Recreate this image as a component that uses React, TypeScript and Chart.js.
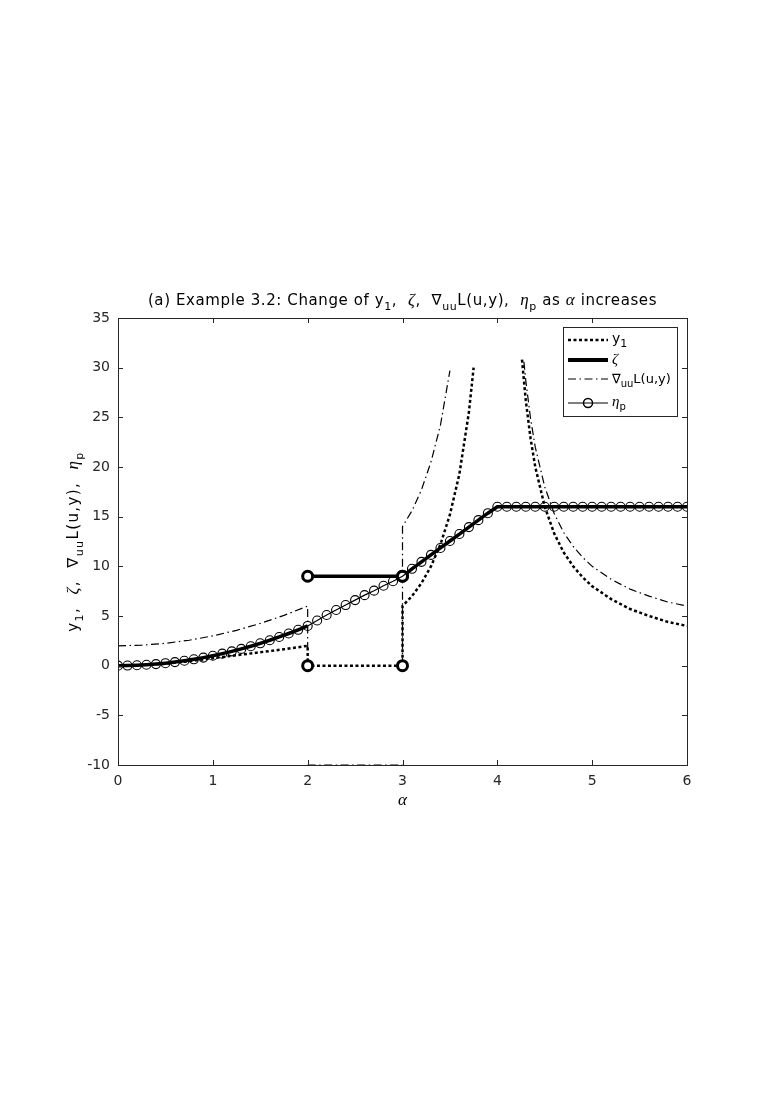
import React, { useEffect, useRef } from "react";
import { Chart, registerables } from "chart.js";

Chart.register(...registerables);

// ---------- data ----------
const xTickValues = [0, 1, 2, 3, 4, 5, 6];
const yTickValues = [-10, -5, 0, 5, 10, 15, 20, 25, 30, 35];

// eta_p sampled every 0.1 in alpha
const alphaGrid = [
  0, 0.1, 0.2, 0.3, 0.4, 0.5, 0.6, 0.7, 0.8, 0.9, 1, 1.1, 1.2, 1.3, 1.4, 1.5, 1.6, 1.7, 1.8, 1.9, 2,
  2.1, 2.2, 2.3, 2.4, 2.5, 2.6, 2.7, 2.8, 2.9, 3, 3.1, 3.2, 3.3, 3.4, 3.5, 3.6, 3.7, 3.8, 3.9, 4,
  4.1, 4.2, 4.3, 4.4, 4.5, 4.6, 4.7, 4.8, 4.9, 5, 5.1, 5.2, 5.3, 5.4, 5.5, 5.6, 5.7, 5.8, 5.9, 6,
];
const etaValues = [
  0, 0.01, 0.04, 0.09, 0.16, 0.25, 0.36, 0.49, 0.64, 0.81, 1, 1.21, 1.44, 1.69, 1.96, 2.25, 2.56, 2.89, 3.24, 3.61, 4,
  4.55, 5.1, 5.6, 6.1, 6.6, 7.1, 7.55, 8.05, 8.5, 9, 9.75, 10.45, 11.15, 11.85, 12.55, 13.25, 13.95, 14.65, 15.35, 16,
  16, 16, 16, 16, 16, 16, 16, 16, 16, 16, 16, 16, 16, 16, 16, 16, 16, 16, 16, 16,
];

// y_1 (null = break in the curve)
const y1Alpha = [
  0, 0.25, 0.5, 0.75, 1, 1.25, 1.5, 1.75, 2, 2, 3, 3, 3.1, 3.2, 3.3, 3.4, 3.5, 3.6, 3.7, 3.75,
  4, 4.26, 4.3, 4.35, 4.4, 4.5, 4.6, 4.7, 4.8, 4.9, 5, 5.2, 5.4, 5.6, 5.8, 6,
];
const y1Values: (number | null)[] = [
  0, 0.06, 0.2, 0.45, 0.75, 1.05, 1.35, 1.65, 2, 0, 0, 6, 7.0, 8.3, 10.0, 12.2, 15.2, 19.3, 25.5, 30,
  null, 30.8, 26.7, 22.9, 20, 16, 13.3, 11.4, 10, 8.9, 8, 6.7, 5.7, 5, 4.4, 4,
];

// zeta: equals eta outside [2,3], constant on [2,3]
const zetaJumpAlpha = [2, 3];
const zetaJumpValues = [9, 9];

// grad_uu L(u,y)
const gradAlpha = [
  0, 0.25, 0.5, 0.75, 1, 1.25, 1.5, 1.75, 2, 2, 2, 2, 3, 3, 3, 3, 3.1, 3.2, 3.3, 3.4, 3.5,
  4, 4.28, 4.3, 4.35, 4.4, 4.5, 4.6, 4.7, 4.8, 4.9, 5, 5.2, 5.4, 5.6, 5.8, 6,
];
const gradValues: (number | null)[] = [
  2, 2.06, 2.25, 2.56, 3, 3.56, 4.25, 5.06, 6, 0, null, -10, -10, null, 0, 14, 15.6, 17.7, 20.5, 24.2, 29.7,
  null, 30.6, 28.7, 24.9, 22, 18, 15.3, 13.4, 12, 10.9, 10, 8.7, 7.7, 7, 6.4, 6,
];

// ---------- helpers ----------
const INK = "#262626";
const SANS = '"DejaVu Sans"';
const SERIF = '"Liberation Serif"';

type Run = { t: string; sub?: boolean; it?: boolean };

function fontFor(r: Run, size: number) {
  const s = r.sub ? Math.round(size * 0.75) : size;
  if (r.it) return `italic ${Math.round(s * 1.12)}px ${SERIF}`;
  return `${s}px ${SANS}`;
}

function setSpacing(ctx: any, sp: number) {
  if ("letterSpacing" in ctx) ctx.letterSpacing = `${sp}px`;
}

function runsWidth(ctx: CanvasRenderingContext2D, runs: Run[], size: number) {
  let w = 0;
  for (const r of runs) {
    ctx.font = fontFor(r, size);
    w += ctx.measureText(r.t).width;
  }
  return w;
}

function drawRuns(
  ctx: CanvasRenderingContext2D,
  runs: Run[],
  x: number,
  y: number,
  size: number,
  align: "left" | "center",
  spacing = 0
) {
  setSpacing(ctx, spacing);
  const w = runsWidth(ctx, runs, size);
  let cx = align === "center" ? x - w / 2 : x;
  ctx.textAlign = "left";
  ctx.textBaseline = "alphabetic";
  for (const r of runs) {
    ctx.font = fontFor(r, size);
    ctx.fillText(r.t, cx, r.sub ? y + size * 0.32 : y);
    cx += ctx.measureText(r.t).width;
  }
  setSpacing(ctx, 0);
}

const titleRuns: Run[] = [
  { t: "(a) Example 3.2: Change of y" },
  { t: "1", sub: true },
  { t: ",  " },
  { t: "ζ", it: true },
  { t: ",  ∇" },
  { t: "uu", sub: true },
  { t: "L(u,y),  " },
  { t: "η", it: true },
  { t: "p", sub: true },
  { t: " as " },
  { t: "α", it: true },
  { t: " increases" },
];

const yLabelRuns: Run[] = [
  { t: "y" },
  { t: "1", sub: true },
  { t: ",  " },
  { t: "ζ", it: true },
  { t: ",  ∇" },
  { t: "uu", sub: true },
  { t: "L(u,y),  " },
  { t: "η", it: true },
  { t: "p", sub: true },
];

const DOT = [3, 2.5];
const DASHDOT = [8, 3.5, 1.5, 3.5];

const overlayPlugin = {
  id: "overlay",
  afterDraw(chart: any) {
    const { ctx, chartArea: a, scales } = chart;
    const xs = scales.x;
    const ys = scales.y;
    ctx.save();
    // axes box
    ctx.strokeStyle = INK;
    ctx.lineWidth = 1;
    ctx.setLineDash([]);
    ctx.strokeRect(Math.round(a.left) + 0.5, Math.round(a.top) + 0.5, Math.round(a.right - a.left), Math.round(a.bottom - a.top));
    // inward ticks
    ctx.beginPath();
    for (const v of xTickValues) {
      const px = Math.round(xs.getPixelForValue(v)) + 0.5;
      ctx.moveTo(px, a.bottom);
      ctx.lineTo(px, a.bottom - 5);
      ctx.moveTo(px, a.top);
      ctx.lineTo(px, a.top + 5);
    }
    for (const v of yTickValues) {
      const py = Math.round(ys.getPixelForValue(v)) + 0.5;
      ctx.moveTo(a.left, py);
      ctx.lineTo(a.left + 5, py);
      ctx.moveTo(a.right, py);
      ctx.lineTo(a.right - 5, py);
    }
    ctx.stroke();

    ctx.fillStyle = "#000";
    // title
    drawRuns(ctx, titleRuns, (a.left + a.right) / 2, a.top - 13, 15, "center", 0.6);
    // x label
    ctx.font = `italic 17px ${SERIF}`;
    ctx.textAlign = "center";
    ctx.textBaseline = "alphabetic";
    ctx.fillText("α", (a.left + a.right) / 2, 805);
    // y label
    ctx.save();
    ctx.translate(78, (a.top + a.bottom) / 2);
    ctx.rotate(-Math.PI / 2);
    drawRuns(ctx, yLabelRuns, 0, 0, 15, "center", 1.4);
    ctx.restore();

    // legend
    const lx = a.right - 124;
    const ly = a.top + 9;
    const lw = 114;
    const lh = 89;
    ctx.fillStyle = "#fff";
    ctx.fillRect(lx, ly, lw, lh);
    ctx.strokeStyle = INK;
    ctx.lineWidth = 1;
    ctx.strokeRect(lx + 0.5, ly + 0.5, lw, lh);
    const sx0 = lx + 5;
    const sx1 = lx + 45;
    const tx = lx + 49;
    const rows = [ly + 13, ly + 33, ly + 52, ly + 76];
    ctx.strokeStyle = "#000";
    // y1
    ctx.lineWidth = 2.5;
    ctx.setLineDash(DOT);
    ctx.beginPath();
    ctx.moveTo(sx0, rows[0]);
    ctx.lineTo(sx1, rows[0]);
    ctx.stroke();
    // zeta
    ctx.setLineDash([]);
    ctx.lineWidth = 4;
    ctx.beginPath();
    ctx.moveTo(sx0, rows[1]);
    ctx.lineTo(sx1, rows[1]);
    ctx.stroke();
    // grad
    ctx.lineWidth = 1.2;
    ctx.setLineDash(DASHDOT);
    ctx.beginPath();
    ctx.moveTo(sx0, rows[2]);
    ctx.lineTo(sx1, rows[2]);
    ctx.stroke();
    // eta
    ctx.setLineDash([]);
    ctx.lineWidth = 1.2;
    ctx.beginPath();
    ctx.moveTo(sx0, rows[3]);
    ctx.lineTo(sx1, rows[3]);
    ctx.stroke();
    ctx.lineWidth = 1.5;
    ctx.beginPath();
    ctx.arc((sx0 + sx1) / 2, rows[3], 4.5, 0, Math.PI * 2);
    ctx.stroke();

    ctx.fillStyle = "#000";
    drawRuns(ctx, [{ t: "y" }, { t: "1", sub: true }], tx, rows[0] + 3, 14, "left");
    drawRuns(ctx, [{ t: "ζ", it: true }], tx, rows[1] + 4, 13, "left");
    drawRuns(ctx, [{ t: "∇" }, { t: "uu", sub: true }, { t: "L(u,y)" }], tx, rows[2] + 4, 13, "left");
    drawRuns(ctx, [{ t: "η", it: true }, { t: "p", sub: true }], tx, rows[3] + 3, 13, "left");
    ctx.restore();
  },
};

function pts(xsArr: number[], ysArr: (number | null)[]) {
  return xsArr.map((x, i) => ({ x, y: ysArr[i] }));
}

export default function App() {
  const ref = useRef<HTMLCanvasElement>(null);

  useEffect(() => {
    const etaPts = pts(alphaGrid, etaValues);
    const zetaPts = [
      ...etaPts.filter((p) => p.x <= 2),
      { x: 2, y: null as number | null },
      ...pts(zetaJumpAlpha, zetaJumpValues),
      { x: 3, y: null as number | null },
      ...etaPts.filter((p) => p.x >= 3),
    ];
    const y1Pts = pts(y1Alpha, y1Values);
    const gradPts = pts(gradAlpha, gradValues);

    const isJumpMarker = (c: any, yv: number) =>
      c.raw && c.raw.y === yv && (c.raw.x === 2 || c.raw.x === 3) && c.index > 0;

    const chart = new Chart(ref.current as HTMLCanvasElement, {
      type: "line",
      data: {
        datasets: [
          {
            label: "eta",
            data: etaPts as any,
            borderColor: "#000",
            borderWidth: 1.2,
            pointRadius: 4.5,
            pointBorderWidth: 1.1,
            pointBorderColor: "#000",
            pointBackgroundColor: "rgba(0,0,0,0)",
            pointHoverRadius: 4.5,
            tension: 0,
          },
          {
            label: "zeta",
            data: zetaPts as any,
            borderColor: "#000",
            borderWidth: 3.5,
            pointRadius: (c: any) => (isJumpMarker(c, 9) ? 5 : 0),
            pointBorderWidth: 3,
            pointBorderColor: "#000",
            pointBackgroundColor: "#fff",
            spanGaps: false,
            tension: 0,
          },
          {
            label: "y1",
            data: y1Pts as any,
            borderColor: "#000",
            borderWidth: 2.5,
            borderDash: DOT,
            pointRadius: (c: any) => (isJumpMarker(c, 0) ? 5 : 0),
            pointBorderWidth: 3,
            pointBorderColor: "#000",
            pointBackgroundColor: "#fff",
            spanGaps: false,
            tension: 0,
          },
          {
            label: "grad",
            data: gradPts as any,
            borderColor: "#000",
            borderWidth: 1.2,
            borderDash: DASHDOT,
            pointRadius: 0,
            spanGaps: false,
            clip: false,
            tension: 0,
          } as any,
        ],
      },
      options: {
        responsive: false,
        animation: false,
        events: [],
        layout: { padding: { left: 0, right: 92, top: 318, bottom: 277 } },
        plugins: {
          legend: { display: false },
          title: { display: false },
          tooltip: { enabled: false },
        },
        scales: {
          x: {
            type: "linear",
            min: 0,
            max: 6,
            ticks: {
              stepSize: 1,
              color: INK,
              padding: 8,
              maxRotation: 0,
              font: { family: "DejaVu Sans", size: 14 },
            },
            grid: { display: false, drawTicks: false },
            border: { display: false },
            afterFit: (s: any) => {
              s.height = 60;
              s.paddingLeft = 0;
              s.paddingRight = 0;
              s.paddingTop = 0;
              s.paddingBottom = 0;
            },
          },
          y: {
            type: "linear",
            min: -10,
            max: 35,
            ticks: {
              stepSize: 5,
              color: INK,
              padding: 8,
              font: { family: "DejaVu Sans", size: 14 },
            },
            grid: { display: false, drawTicks: false },
            border: { display: false },
            afterFit: (s: any) => {
              s.width = 118;
              s.paddingLeft = 0;
              s.paddingRight = 0;
              s.paddingTop = 0;
              s.paddingBottom = 0;
            },
          },
        },
      },
      plugins: [overlayPlugin],
    });
    return () => chart.destroy();
  }, []);

  return (
    <div style={{ position: "absolute", left: 0, top: 0, width: 779, height: 1102, background: "#fff" }}>
      <canvas ref={ref} width={779} height={1102} style={{ display: "block" }} />
    </div>
  );
}
